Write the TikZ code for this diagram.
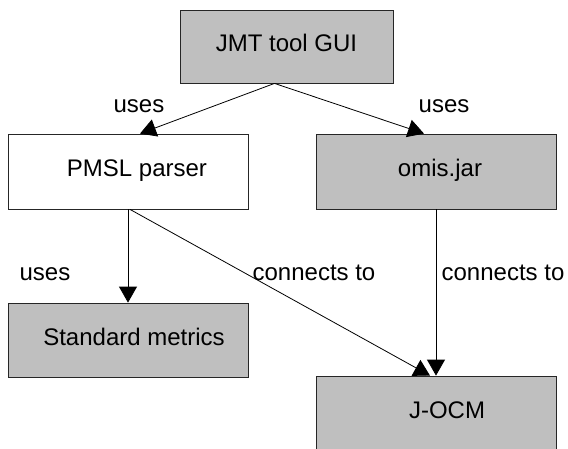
\documentclass[tikz,border=0pt]{standalone}
\usepackage{fontspec}
\setmainfont{Liberation Sans}
\usetikzlibrary{arrows.meta}
\begin{document}
\begin{tikzpicture}[x=1pt,y=-1pt,
  box/.style={draw=black!85, line width=0.8pt, rectangle, inner sep=0pt,
    minimum width=240pt, minimum height=75pt, text height=18pt, text depth=8pt,
    font=\fontsize{24}{28}\selectfont},
  grey/.style={box, fill=black!25},
  link/.style={draw=black, line width=0.8pt, -{Triangle[width=18pt,length=16pt]}},
  lbl/.style={font=\fontsize{24}{28}\selectfont, inner sep=0pt, text height=18pt, text depth=0pt}]
\useasboundingbox (0,0) rectangle (568,448);
\node[grey, minimum width=213pt, minimum height=73pt] (gui) at (286.5,46.5) {JMT tool GUI};
\node[box] (parser) at (128,171.5) {\hspace{18pt}PMSL parser};
\node[grey] (omis) at (436,171.5) {\hspace{8pt}omis.jar};
\node[grey, minimum height=74pt] (metrics) at (128,340) {\hspace{12pt}Standard metrics};
\node[grey] (jocm) at (436,413.5) {\hspace{22pt}J-OCM};
\draw[link] ([xshift=-12pt]gui.south) -- ([xshift=12pt]parser.north);
\draw[link] ([xshift=-12pt]gui.south) -- ([xshift=-12pt]omis.north);
\draw[link] (parser.south) -- (metrics.north);
\draw[link] ([xshift=2pt]parser.south) -- ([xshift=-6pt]jocm.north);
\draw[link] (omis.south) -- (jocm.north);
\node[lbl] (uses1) at (139,103) {uses};
\node[lbl] (uses2) at (444,103) {uses};
\node[lbl] (uses3) at (45,271) {uses};
\node[lbl] (conn1) at (314,271) {connects to};
\node[lbl] (conn2) at (503,271) {connects to};
\end{tikzpicture}
\end{document}
